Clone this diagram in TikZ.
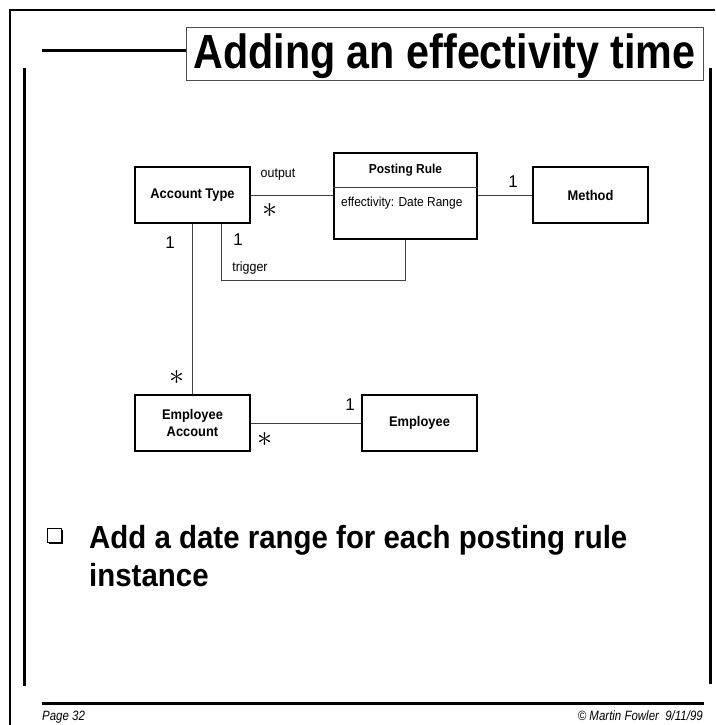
\documentclass[tikz,border=0pt]{standalone}
\usepackage{fontspec}
\setmainfont{Liberation Sans}
\newfontfamily\narrowsans[FakeStretch=0.92]{Liberation Sans}
\newfontfamily\titlesans[FakeStretch=0.86]{Liberation Sans}
\newfontfamily\footsans[FakeStretch=0.85]{Liberation Sans}
\usetikzlibrary{calc}
\begin{document}
\begin{tikzpicture}[x=1pt,y=-1pt,
  umlbox/.style={draw=black, line width=1.1pt, rectangle, inner sep=0pt,
    minimum width=115pt, minimum height=56pt, align=center,
    font=\narrowsans\bfseries\fontsize{14}{16}\selectfont},
  assoc/.style={draw=black!75, line width=0.9pt},
  rolelabel/.style={inner sep=0pt, font=\narrowsans\fontsize{13.5}{15}\selectfont},
  multlabel/.style={inner sep=0pt, font=\fontsize{17}{19}\selectfont},
  manylabel/.style={inner sep=0pt, font=\fontsize{10}{12}\selectfont},
  frameline/.style={line width=3pt, line cap=butt}]
\useasboundingbox (0,0) rectangle (715,725);

% page frame
\draw[line width=2pt] (10,725) -- (10,10.5) -- (715,10.5);
\draw[frameline] (42,51) -- (186,51);
\draw[frameline] (24,68) -- (24,686);
\draw[frameline] (710.5,68) -- (710.5,684);
\draw[line width=3.5pt] (42,703.5) -- (704,703.5);

% title
\node[draw=black!70, line width=0.9pt, inner sep=0pt, minimum width=517pt,
  minimum height=53pt, anchor=north west] (title) at (186,27) {};
\node[inner sep=0pt, anchor=base, font=\titlesans\bfseries\fontsize{48}{52}\selectfont]
  (titletext) at (444.5,68) {Adding an effectivity time};

% classes
\node[umlbox] (acct) at (192.5,195) {Account Type};
\node[umlbox, minimum width=143pt, minimum height=86pt] (rule) at (405.5,196) {};
\node[inner sep=0pt, font=\narrowsans\bfseries\fontsize{13}{15}\selectfont]
  (ruletitle) at (405.5,170) {Posting Rule};
\draw[black!75, line width=0.9pt] ($(rule.north west)+(0,35)$) -- ($(rule.north east)+(0,35)$);
\node[inner sep=0pt, anchor=west, font=\narrowsans\fontsize{13}{15}\selectfont]
  (ruleattr) at (341,203) {effectivity: Date Range};
\node[umlbox] (method) at (590.5,195) {Method};
\node[umlbox] (empacct) at (192.5,423) {Employee\\[1pt]Account};
\node[umlbox] (emp) at (419.5,423) {Employee};

% associations
\draw[assoc] (acct.east) -- (acct.east -| rule.west);
\draw[assoc] (method.west -| rule.east) -- (method.west);
\draw[assoc] (acct.south) -- (empacct.north);
\draw[assoc] ([xshift=28.5pt]acct.south) -- ++(0,57) -| (rule.south);
\draw[assoc] (empacct.east) -- (emp.west);

% association labels
\node[rolelabel] (lout) at (278,175) {output};
\node[manylabel] (m1) at (269.5,211) {\scalebox{3}{$\ast$}};
\node[multlabel] (m2) at (170,243) {1};
\node[multlabel] (m3) at (238,240) {1};
\node[rolelabel] (ltrig) at (250,268) {trigger};
\node[multlabel] (m4) at (513,182) {1};
\node[manylabel] (m5) at (177,378) {\scalebox{3}{$\ast$}};
\node[multlabel] (m6) at (350,405) {1};
\node[manylabel] (m7) at (265,440) {\scalebox{3}{$\ast$}};

% bullet point
\draw[line width=0.9pt] (47,528) rectangle (61,542);
\draw[line width=2.4pt] (62.2,529.5) -- (62.2,543.2) -- (48.5,543.2);
\node[anchor=base west, inner sep=0pt, align=left,
  font=\narrowsans\bfseries\fontsize{32}{38}\selectfont]
  (point) at (89,586) {Add a date range for each posting rule\\instance};

% footer
\node[anchor=base west, inner sep=0pt, font=\footsans\itshape\fontsize{13.5}{15}\selectfont]
  (page) at (42,720) {Page 32};
\node[anchor=base east, inner sep=0pt, font=\footsans\itshape\fontsize{13.5}{15}\selectfont]
  (copy) at (703,720) {\textcopyright{} Martin Fowler\ \ 9/11/99};
\end{tikzpicture}
\end{document}
